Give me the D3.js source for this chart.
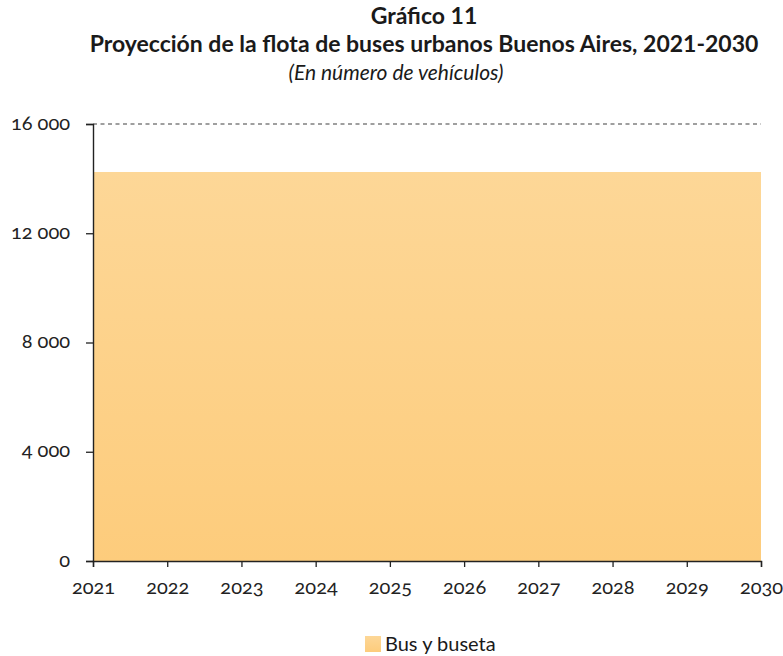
<!DOCTYPE html>
<html>
<head>
<meta charset="utf-8">
<script src="https://cdn.jsdelivr.net/npm/d3@7"></script>
<style>
  body { margin: 0; background: #fff; }
</style>
</head>
<body>
<div id="chart"></div>
<script>
// data
var years = [2021, 2022, 2023, 2024, 2025, 2026, 2027, 2028, 2029, 2030];
var busYBuseta = [14240, 14240, 14240, 14240, 14240, 14240, 14240, 14240, 14240, 14240];
var yTicks = [0, 4000, 8000, 12000, 16000];
var seriesName = "Bus y buseta";

var W = 783, H = 656;
var margin = {top: 124, right: 22, bottom: 95, left: 93};
var width = W - margin.left - margin.right;
var height = H - margin.top - margin.bottom;
var fontMain = "Lato, 'Open Sans', sans-serif";

var svg = d3.select("#chart").append("svg")
    .attr("width", W)
    .attr("height", H);

// titles (subtitle sits a bit left of centre in the original)
var titles = [
    {t: "Gráfico 11", x: 424, y: 24, size: 23, bold: true, italic: false},
    {t: "Proyección de la flota de buses urbanos Buenos Aires, 2021-2030", x: 424, y: 52, size: 23, bold: true, italic: false},
    {t: "(En número de vehículos)", x: 396, y: 80, size: 21, bold: false, italic: true}
];
svg.selectAll(".title")
    .data(titles)
    .enter().append("text")
    .attr("class", "title")
    .attr("x", function(d) { return d.x; })
    .attr("y", function(d) { return d.y; })
    .attr("text-anchor", "middle")
    .style("font-family", fontMain)
    .style("font-size", function(d) { return d.size + "px"; })
    .style("font-weight", function(d) { return d.bold ? "bold" : "normal"; })
    .style("font-style", function(d) { return d.italic ? "italic" : "normal"; })
    .style("fill", "#1a1a1a")
    .text(function(d) { return d.t; });

var g = svg.append("g")
    .attr("transform", "translate(" + margin.left + "," + margin.top + ")");

var x = d3.scaleLinear().domain([2021, 2030]).range([0, width]);
var y = d3.scaleLinear().domain([0, 16000]).range([height, 0]);

// gradient fill for area
var defs = svg.append("defs");
var grad = defs.append("linearGradient")
    .attr("id", "areaGrad")
    .attr("x1", 0).attr("y1", 0).attr("x2", 0).attr("y2", 1);
grad.append("stop").attr("offset", "0%").attr("stop-color", "#fdd797");
grad.append("stop").attr("offset", "100%").attr("stop-color", "#fdcc7c");

// dashed gridline at top
g.selectAll(".grid")
    .data(yTicks.slice(-1))
    .enter().append("line")
    .attr("class", "grid")
    .attr("x1", 0).attr("x2", width)
    .attr("y1", function(d) { return y(d); })
    .attr("y2", function(d) { return y(d); })
    .style("stroke", "#808080")
    .style("stroke-width", 1.3)
    .style("stroke-dasharray", "4,3.5");

var data = years.map(function(yr, i) { return {year: yr, value: busYBuseta[i]}; });

var area = d3.area()
    .x(function(d) { return x(d.year); })
    .y0(y(0))
    .y1(function(d) { return y(d.value); });

g.append("path")
    .datum(data)
    .attr("d", area)
    .style("fill", "url(#areaGrad)");

// axes
var yAxis = d3.axisLeft(y)
    .tickValues(yTicks)
    .tickSize(7)
    .tickPadding(16)
    .tickFormat(function(d) { return d3.format(",")(d).replace(/,/g, " "); });

var xAxis = d3.axisBottom(x)
    .tickValues(years)
    .tickSize(6)
    .tickPadding(13)
    .tickFormat(d3.format("d"));

function styleAxis(sel) {
    sel.selectAll("text")
        .style("font-family", fontMain)
        .style("font-size", "20px")
        .style("font-variant-numeric", "oldstyle-nums")
        .style("fill", "#222");
    sel.select(".domain").style("stroke", "#222").style("stroke-width", 1.4);
    sel.selectAll(".tick line").style("stroke", "#222").style("stroke-width", 1.3);
}

var ya = g.append("g").attr("class", "axis y-axis").call(yAxis);
styleAxis(ya);
ya.selectAll("text").attr("dy", "0.25em");

var xa = g.append("g").attr("class", "axis x-axis")
    .attr("transform", "translate(0," + height + ")")
    .call(xAxis);
styleAxis(xa);

// legend
var legend = svg.append("g").attr("class", "legend")
    .attr("transform", "translate(365,636)");
legend.append("rect")
    .attr("width", 16).attr("height", 16)
    .style("fill", "url(#areaGrad)");
legend.append("text")
    .attr("x", 20).attr("y", 15)
    .style("font-family", fontMain)
    .style("font-size", "20px")
    .style("fill", "#1a1a1a")
    .text(seriesName);
</script>
</body>
</html>
